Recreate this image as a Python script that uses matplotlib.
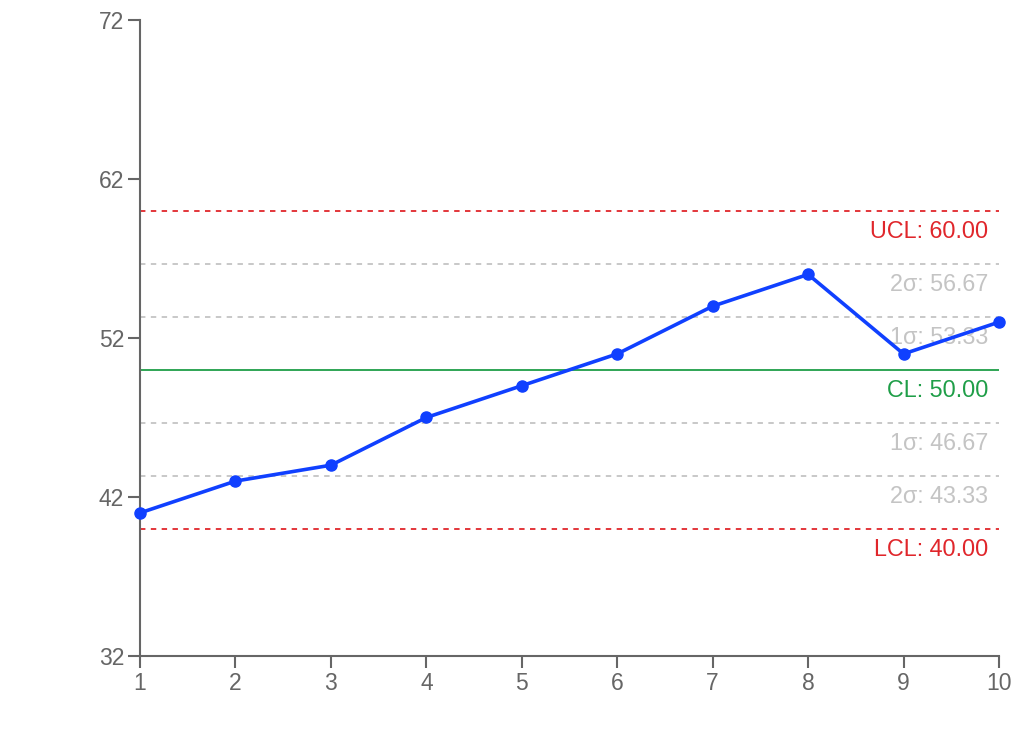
import numpy as np
import matplotlib.pyplot as plt

plt.rcParams['font.family'] = ['Liberation Sans', 'DejaVu Sans']

# data
samples = [1, 2, 3, 4, 5, 6, 7, 8, 9, 10]
values = [41, 43, 44, 47, 49, 51, 54, 56, 51, 53]

cl = 50.0
ucl = 60.0
lcl = 40.0
sigma_lines = [56.67, 53.33, 46.67, 43.33]
sigma_labels = ['2σ: 56.67', '1σ: 53.33', '1σ: 46.67', '2σ: 43.33']

yticks = [32, 42, 52, 62, 72]

fig = plt.figure(figsize=(10.2, 7.36), dpi=100)
ax = fig.add_axes([140/1020, 1 - 656/736, (999-140)/1020, (656-20)/736])

axis_col = '#666666'

# limit lines
ax.axhline(ucl, color='#e0262b', lw=1.3, ls=(0, (3, 3)), zorder=1)
ax.axhline(lcl, color='#e0262b', lw=1.3, ls=(0, (3, 3)), zorder=1)
ax.axhline(cl, color='#1f9e48', lw=1.3, zorder=1)
for v in sigma_lines:
    ax.axhline(v, color='#c4c4c4', lw=1.3, ls=(0, (3, 3)), zorder=1)

def lab(v, txt, col):
    ax.annotate(txt, xy=(1, v), xycoords=('axes fraction', 'data'),
                xytext=(-8, -6.5), textcoords='offset points',
                ha='right', va='top', fontsize=16.8, color=col, zorder=2)

lab(ucl, 'UCL: 60.00', '#e0262b')
lab(lcl, 'LCL: 40.00', '#e0262b')
lab(cl, 'CL: 50.00', '#1f9e48')
for v, t in zip(sigma_lines, sigma_labels):
    lab(v, t, '#c4c4c4')

ax.plot(samples, values, color='#1040ff', lw=2.6, marker='o', ms=8,
        zorder=5, clip_on=False)

ax.set_xlim(1, 10)
ax.set_ylim(32, 72)
ax.set_xticks(samples)
ax.set_yticks(yticks)

for s in ['top', 'right']:
    ax.spines[s].set_visible(False)
for s in ['left', 'bottom']:
    ax.spines[s].set_color(axis_col)
    ax.spines[s].set_linewidth(1.5)
ax.tick_params(colors=axis_col, labelsize=16.5, length=8.5, width=1.5, pad=3)

fig.savefig('out.png', dpi=100)
